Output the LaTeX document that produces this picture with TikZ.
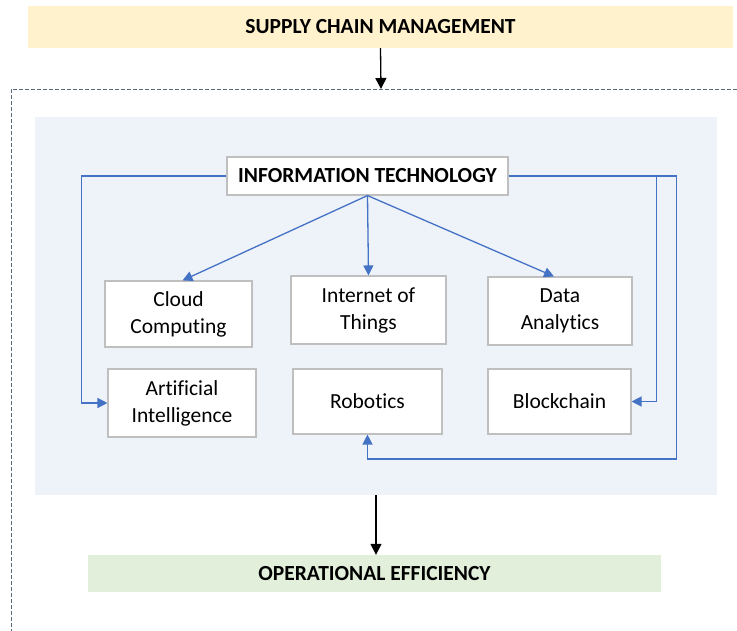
\documentclass[tikz,border=0pt]{standalone}
\usepackage{fontspec}
\setmainfont{Carlito}[RawFeature={-liga;-clig;-dlig}]
\usetikzlibrary{arrows.meta}
\definecolor{itblue}{HTML}{4472C4}
\definecolor{panelfill}{HTML}{EEF2F9}
\definecolor{scmfill}{HTML}{FFF2CC}
\definecolor{oefill}{HTML}{E2EFDA}
\definecolor{boxline}{HTML}{BFBFBF}
\definecolor{frameline}{HTML}{5A687C}
\tikzset{
  techbox/.style={draw=boxline, line width=1.1pt, fill=white, align=center, inner sep=2pt,
    font=\fontsize{21.5}{27}\selectfont},
  titlebox/.style={draw=none, align=center, font=\fontsize{21.5}{25}\selectfont\bfseries},
  bluearr/.style={draw=itblue, line width=1.3pt, -{Triangle[length=10pt,width=10pt]}},
  blackarr/.style={draw=black, line width=1.3pt, -{Triangle[length=11pt,width=11pt]}},
}
\begin{document}
\begin{tikzpicture}[x=1pt,y=-1pt]
\useasboundingbox (0,0) rectangle (737,630);
% title
\node[titlebox, fill=scmfill, minimum width=705pt, minimum height=42pt] (scm) at (380.5,27) {SUPPLY CHAIN MANAGEMENT};
% dashed frame
\coordinate (ftop) at (381,89);
\draw[frameline, line width=0.9pt, dash pattern=on 4pt off 2pt] (737,89) -- (11,89) -- (11,631);
\draw[blackarr] (scm.south) -- (ftop);
% panel
\node[fill=panelfill, draw=none, minimum width=682pt, minimum height=378pt, inner sep=0pt] (panel) at (376,306) {};
% boxes
\node[techbox, font=\fontsize{21.5}{25}\selectfont\bfseries, minimum width=281pt, minimum height=38pt] (it) at (367.5,176) {INFORMATION TECHNOLOGY};
\node[techbox, minimum width=147pt, minimum height=66pt] (cc) at (178.5,314) {Cloud\\Computing};
\node[techbox, minimum width=155pt, minimum height=68pt] (iot) at (368.5,310) {Internet of\\Things};
\node[techbox, minimum width=144pt, minimum height=68pt] (da) at (560,311) {Data\\Analytics};
\node[techbox, minimum width=148pt, minimum height=68pt] (ai) at (182,403) {Artificial\\Intelligence};
\node[techbox, minimum width=149pt, minimum height=65pt] (rob) at (367.5,401.5) {Robotics};
\node[techbox, minimum width=143pt, minimum height=65pt] (bc) at (559.5,401.5) {Blockchain};
% connectors
\draw[bluearr] (it.south) -- ([xshift=4pt]cc.north);
\draw[bluearr] (it.south) -- (iot.north);
\draw[bluearr] (it.south) -- ([xshift=-6pt]da.north);
\draw[bluearr] (it.west) -- ++(-145,0) |- (ai.west);
\draw[bluearr] (it.east) -- ++(148,0) |- (bc.east);
\draw[bluearr] (it.east) -- ++(168,0) -- ++(0,283) -| (rob.south);
% output
\node[titlebox, fill=oefill, minimum width=573pt, minimum height=37pt] (oe) at (374.5,573.5) {OPERATIONAL EFFICIENCY};
\draw[blackarr] (panel.south) -- (panel.south |- oe.north);
\end{tikzpicture}
\end{document}
